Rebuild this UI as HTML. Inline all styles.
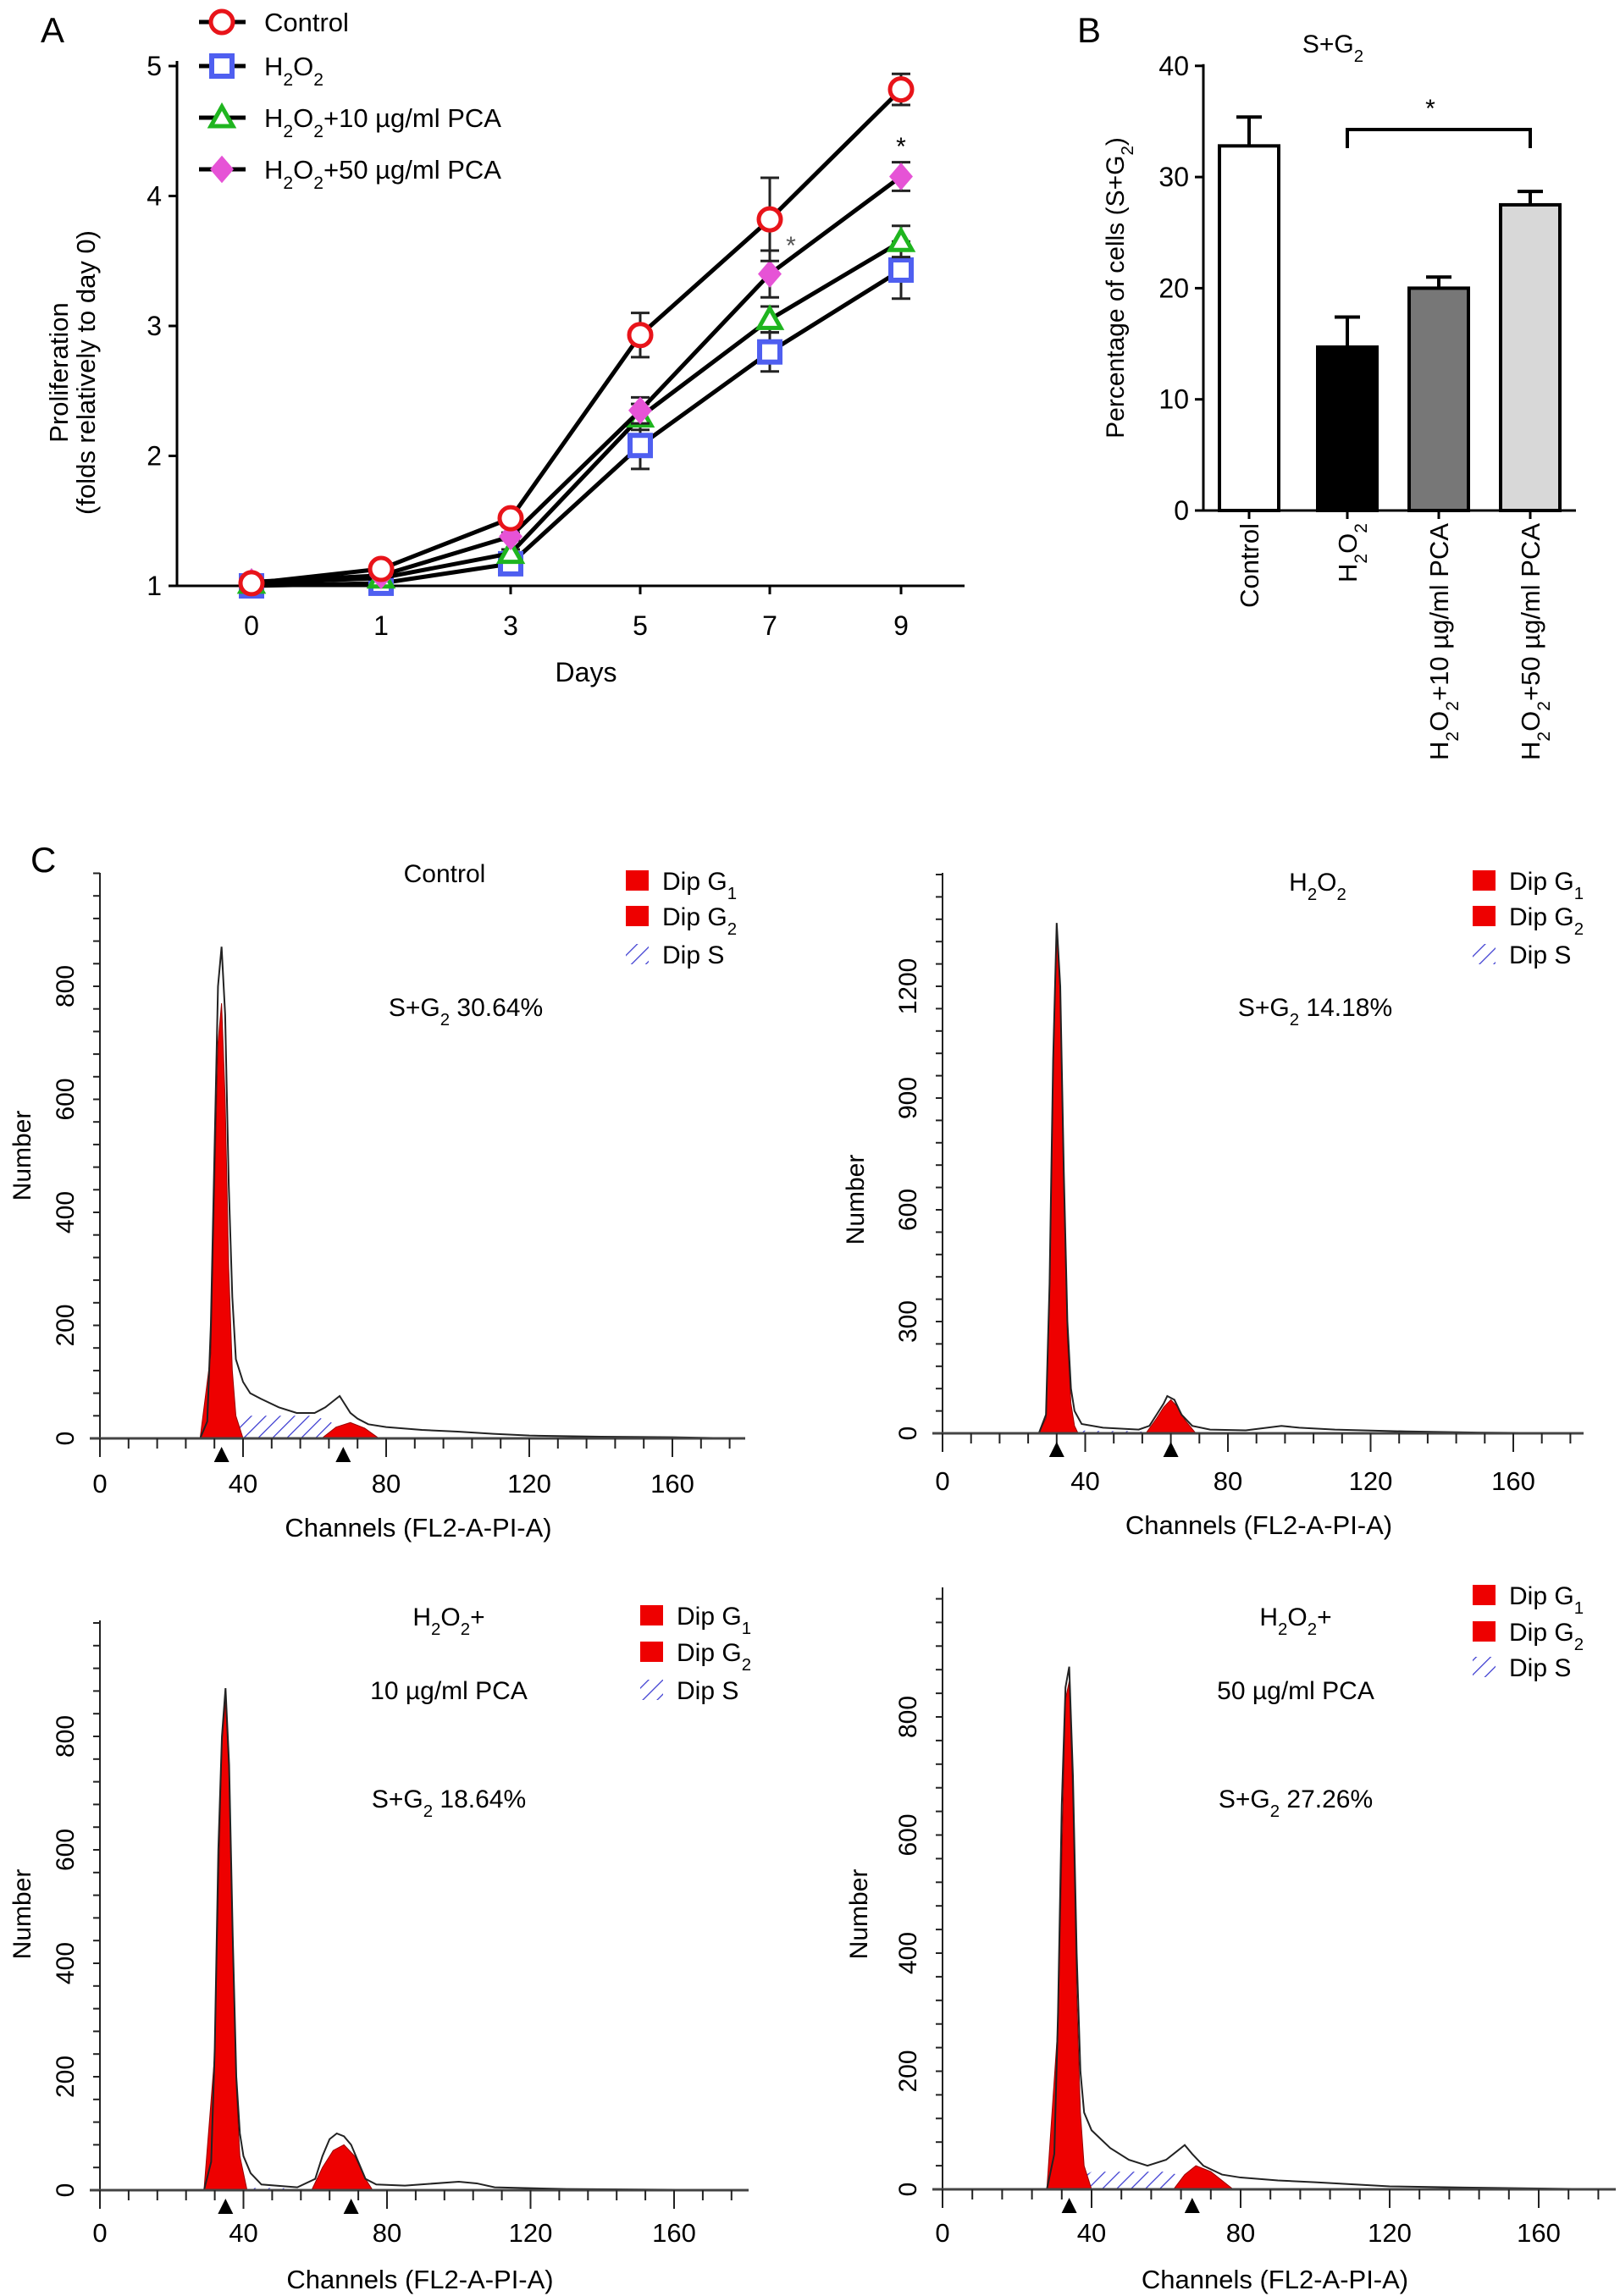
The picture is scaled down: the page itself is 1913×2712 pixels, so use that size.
<!DOCTYPE html>
<html><head><meta charset="utf-8"><style>
html,body{margin:0;padding:0;background:#fff;}
svg{display:block;font-family:"Liberation Sans Narrow","Liberation Sans",sans-serif;}
.ax{stroke:#000;stroke-width:3;fill:none;}
</style></head><body>
<svg id="fig" width="1913" height="2712" viewBox="0 0 1913 2712" xmlns="http://www.w3.org/2000/svg">
<defs>
<pattern id="hatch" patternUnits="userSpaceOnUse" width="12" height="12" patternTransform="rotate(45)">
<line x1="0" y1="0" x2="0" y2="12" stroke="#3a3ad0" stroke-width="2.5"/>
</pattern>
</defs>
<text x="48" y="50" font-size="42" font-family="Liberation Sans">A</text>
<text x="1272" y="50" font-size="42" font-family="Liberation Sans">B</text>
<text x="36" y="1030" font-size="42" font-family="Liberation Sans">C</text>
<g id="gA"></g>
<g id="gB"></g>
<g id="gC"></g>
</svg>
<script>
// ---------- Panel A data ----------
const daysA = [0, 1, 3, 5, 7, 9];
const dayLabelsA = ["0", "1", "3", "5", "7", "9"];
const yTicksA = [1, 2, 3, 4, 5];
const seriesNamesA = ["Control", "H2O2", "H2O2+10", "H2O2+50"];
const controlA = [1.02, 1.13, 1.52, 2.93, 3.82, 4.82];
const h2o2A = [1.0, 1.02, 1.17, 2.08, 2.80, 3.43];
const pca10A = [1.02, 1.06, 1.25, 2.30, 3.05, 3.65];
const pca50A = [1.03, 1.08, 1.38, 2.35, 3.40, 4.15];
const controlErrA = [0, 0, 0.03, 0.17, 0.32, 0.12];
const h2o2ErrA = [0, 0, 0.03, 0.18, 0.15, 0.22];
const pca10ErrA = [0, 0, 0.03, 0.10, 0.10, 0.12];
const pca50ErrA = [0, 0, 0.03, 0.10, 0.18, 0.11];
// ---------- Panel B data ----------
const catsB = ["Control", "H2O2", "H2O2+10 µg/ml PCA", "H2O2+50 µg/ml PCA"];
const valsB = [32.8, 14.7, 20.0, 27.5];
const errsB = [2.6, 2.7, 1.0, 1.2];
const yTicksB = [0, 10, 20, 30, 40];
// ---------- Panel C data (channel, count) ----------
const ctrlCh = [28,30,31,32,33,34,35,36,37,38,40,42,45,50,55,60,63,65,67,68,70,72,75,80,90,100,110,120,140,160,178];
const ctrlN  = [0,30,200,500,800,870,750,450,250,140,100,80,70,55,45,45,55,65,75,65,45,35,25,20,15,12,8,5,3,2,0];
const ctrlG1Ch=[28,31,33,34,35,36,37,38,40]; const ctrlG1N=[0,150,700,770,600,300,120,40,0];
const ctrlG2Ch=[62,66,70,74,78]; const ctrlG2N=[0,20,28,18,0];
const ctrlSCh=[36,40,60,66,68]; const ctrlSN=[20,40,40,25,0];
const h2Ch=[27,29,30,31,32,33,34,35,36,37,39,45,55,58,60,62,63,65,67,70,75,85,95,100,110,130,150,178];
const h2N =[0,50,400,1000,1370,1200,700,300,120,60,25,15,10,20,50,80,100,90,50,20,10,8,20,15,10,5,2,0];
const h2G1Ch=[27,29,30,31,32,33,34,35,36,37,38]; const h2G1N=[0,40,380,980,1350,1180,650,250,80,20,0];
const h2G2Ch=[57,60,62,64,66,68,71]; const h2G2N=[0,40,70,90,70,35,0];
const h2SCh=[38,45,55,58]; const h2SN=[8,6,6,0];
const p10Ch=[29,31,32,33,34,35,36,37,38,39,40,42,45,55,60,62,64,66,68,70,72,74,77,85,100,105,110,130,178];
const p10N =[0,50,250,600,800,885,750,450,200,100,60,30,10,5,20,60,90,100,95,80,50,20,10,8,15,12,5,2,0];
const p10G1Ch=[29,32,34,35,36,37,38,39,41]; const p10G1N=[0,240,790,860,730,430,180,60,0];
const p10G2Ch=[59,62,65,68,71,74,76]; const p10G2N=[0,40,70,80,60,20,0];
const p10SCh=[40,50,59]; const p10SN=[4,4,0];
const p50Ch=[28,30,31,32,33,34,35,36,37,38,40,45,50,55,60,63,65,67,70,75,80,90,100,120,140,178];
const p50N =[0,60,300,650,850,885,700,400,200,130,100,70,50,40,50,65,75,60,40,25,20,15,12,5,3,0];
const p50G1Ch=[28,31,33,34,35,36,37,38,40]; const p50G1N=[0,280,830,860,650,330,130,40,0];
const p50G2Ch=[62,65,68,72,76,78]; const p50G2N=[0,25,40,30,10,0];
const p50SCh=[37,40,60,66,68]; const p50SN=[20,30,30,20,0];

const NS="http://www.w3.org/2000/svg";
function mk(parent, tag, attrs, txt){const e=document.createElementNS(NS,tag);for(const k in attrs)e.setAttribute(k,attrs[k]);if(txt!==undefined)e.textContent=txt;parent.appendChild(e);return e;}
function sub(parent, x, y, parts, size, anchor, extra){
  const t=mk(parent,'text',Object.assign({x:x,y:y,'font-size':size,'text-anchor':anchor||'start'},extra||{}));
  parts.forEach(p=>{const s=document.createElementNS(NS,'tspan');if(p[1]){s.setAttribute('baseline-shift','sub');s.setAttribute('font-size',size*0.68);}s.textContent=p[0];t.appendChild(s);});
  return t;
}

// ---------- Panel A ----------
(function(){
  const g=document.getElementById('gA');
  const x0=209,x1=1139,yb=692;
  const xd={0:297,1:450,3:603,5:756,7:909,9:1064};
  const xs=d=>xd[d];
  const ys=v=>692-(v-1)*153.5;
  let e;
  e=mk(g,'line',{x1:x0,y1:ys(5)-6,x2:x0,y2:yb,class:'ax'});
   
  e=mk(g,'line',{x1:x0,y1:yb,x2:x1,y2:yb,class:'ax','stroke-width':5});
   
  yTicksA.forEach(v=>{
    e=mk(g,'line',{x1:x0-10,y1:ys(v),x2:x0,y2:ys(v),class:'ax'});
     
    e=mk(g,'text',{x:x0-18,y:ys(v)+11,'font-size':32,'text-anchor':'end'},String(v));
     
  });
  daysA.forEach((d,i)=>{
    e=mk(g,'line',{x1:xs(d),y1:yb,x2:xs(d),y2:yb+10,class:'ax'});
     
    e=mk(g,'text',{x:xs(d),y:750,'font-size':32,'text-anchor':'middle'},dayLabelsA[i]);
     
  });
  e=mk(g,'text',{x:692,y:805,'font-size':32,'text-anchor':'middle'},'Days');
   
  e=mk(g,'text',{x:0,y:0,'font-size':31,'text-anchor':'middle','font-family':'Liberation Sans',transform:'translate(80,440) rotate(-90)'},'Proliferation');
   
  e=mk(g,'text',{x:0,y:0,'font-size':31,'text-anchor':'middle','font-family':'Liberation Sans',transform:'translate(112,440) rotate(-90)'},'(folds relatively to day 0)');
   

  const sers=[[controlA,controlErrA,'#e8141a','circle'],[h2o2A,h2o2ErrA,'#4f5ff0','square'],[pca10A,pca10ErrA,'#1fb51f','triangle'],[pca50A,pca50ErrA,'#e653d6','diamond']];
  function marker(parent,x,y,col,shape){
    let m;
    if(shape==='circle') m=mk(parent,'circle',{cx:x,cy:y,r:13,fill:'#fff',stroke:col,'stroke-width':5});
    else if(shape==='square') m=mk(parent,'rect',{x:x-12,y:y-12,width:24,height:24,fill:'#fff',stroke:col,'stroke-width':6});
    else if(shape==='triangle') m=mk(parent,'polygon',{points:`${x},${y-13} ${x-13},${y+10} ${x+13},${y+10}`,fill:'#fff',stroke:col,'stroke-width':5});
    else m=mk(parent,'polygon',{points:`${x},${y-14} ${x+12},${y} ${x},${y+14} ${x-12},${y}`,fill:col,stroke:col,'stroke-width':3});
    return m;
  }
  [1,2,3,0].forEach(si=>{
    const [vals,errs,col,shape]=sers[si];
    const sg=mk(g,'g',{});
    
    
    const pts=daysA.map((d,i)=>xs(d)+','+ys(vals[i])).join(' ');
    e=mk(sg,'polyline',{points:pts,fill:'none',stroke:'#000','stroke-width':5});
     
    daysA.forEach((d,i)=>{
      if(errs[i]>0){
        const x=xs(d),ya=ys(vals[i]+errs[i]),yb2=ys(vals[i]-errs[i]);
        e=mk(sg,'path',{d:`M${x},${ya}V${yb2}M${x-11},${ya}H${x+11}M${x-11},${yb2}H${x+11}`,stroke:'#222','stroke-width':3,fill:'none'});
         
      }
      e=marker(sg,xs(d),ys(vals[i]),col,shape);
       
    });
  });
  e=mk(g,'text',{x:934,y:300,'font-size':30,'text-anchor':'middle',fill:'#555'},'*');
   
  e=mk(g,'text',{x:1064,y:183,'font-size':30,'text-anchor':'middle'},'*');
   
  const leg=[[26,[['Control',0]]],[78,[['H',0],['2',1],['O',0],['2',1]]],[139,[['H',0],['2',1],['O',0],['2',1],['+10 µg/ml PCA',0]]],[200,[['H',0],['2',1],['O',0],['2',1],['+50 µg/ml PCA',0]]]];
  leg.forEach((L,i)=>{
    const lg=mk(g,'g',{});
     
    e=mk(lg,'line',{x1:235,y1:L[0],x2:290,y2:L[0],stroke:'#000','stroke-width':5});
     
    e=marker(lg,262,L[0],sers[i][2],sers[i][3]);
     
    e=sub(lg,312,L[0]+11,L[1],31);
     
  });
})();

// ---------- Panel B ----------
(function(){
  const g=document.getElementById('gB');
  const x0=1421,x1=1861,y0=603;
  const ys=v=>603-v*13.13;
  const centers=[1475,1591,1699,1807];
  const fills=['#ffffff','#000000','#777777','#d8d8d8'];
  let e;
  e=mk(g,'line',{x1:x0,y1:ys(40)-2,x2:x0,y2:y0,class:'ax'});
   
  e=mk(g,'line',{x1:x0,y1:y0,x2:x1,y2:y0,class:'ax','stroke-width':4});
   
  yTicksB.forEach(v=>{
    e=mk(g,'line',{x1:x0-10,y1:ys(v),x2:x0,y2:ys(v),class:'ax'});
     
    e=mk(g,'text',{x:x0-17,y:ys(v)+11,'font-size':32,'text-anchor':'end'},String(v));
     
  });
  valsB.forEach((v,i)=>{
    const c=centers[i];
    e=mk(g,'line',{x1:c,y1:ys(v+errsB[i]),x2:c,y2:ys(v),stroke:'#000','stroke-width':4});
     
    e=mk(g,'line',{x1:c-15,y1:ys(v+errsB[i]),x2:c+15,y2:ys(v+errsB[i]),stroke:'#000','stroke-width':4});
     
    e=mk(g,'rect',{x:c-35,y:ys(v),width:70,height:y0-ys(v),fill:fills[i],stroke:'#000','stroke-width':4});
     
    e=mk(g,'line',{x1:c,y1:y0,x2:c,y2:y0+10,class:'ax'});
     
  });
  const labs=[[['Control',0]],[['H',0],['2',1],['O',0],['2',1]],[['H',0],['2',1],['O',0],['2',1],['+10 µg/ml PCA',0]],[['H',0],['2',1],['O',0],['2',1],['+50 µg/ml PCA',0]]];
  labs.forEach((L,i)=>{
    e=sub(g,0,0,L,31,'end',{'font-family':'Liberation Sans',transform:`translate(${centers[i]+11},618) rotate(-90)`});
     
  });
  e=sub(g,0,0,[['Percentage of cells (S+G',0],['2',1],[')',0]],30,'middle',{'font-family':'Liberation Sans',transform:'translate(1327,340) rotate(-90)'});
   
  e=sub(g,1574,62,[['S+G',0],['2',1]],30,'middle');
   
  e=mk(g,'path',{d:`M${centers[1]},175V153H${centers[3]}V175`,fill:'none',stroke:'#000','stroke-width':4});
   
  e=mk(g,'text',{x:1689,y:138,'font-size':30,'text-anchor':'middle'},'*');
   
})();

// ---------- Panel C ----------
(function(){
  const G=document.getElementById('gC');
  const panels=[
    {name:'control',ax:118,y0:1699,yTop:1031,per:133.5/200,ticks:[0,200,400,600,800],minor:40,xEnd:880,perCh:169/40,ch:ctrlCh,n:ctrlN,g1c:ctrlG1Ch,g1n:ctrlG1N,g2c:ctrlG2Ch,g2n:ctrlG2N,sc:ctrlSCh,sn:ctrlSN,m1:34,m2:68,
     title:[[['Control',0]]],titleX:525,titleY:[1042],legX:739,legY:[1040,1082,1127],sgX:550,sgY:1200,sg:'30.64%',numX:26,numY:1365,tickY:1763,chY:1815},
    {name:'h2o2',ax:1113,y0:1693,yTop:1031,per:132/300,ticks:[0,300,600,900,1200],minor:60,xEnd:1870,perCh:168.5/40,ch:h2Ch,n:h2N,g1c:h2G1Ch,g1n:h2G1N,g2c:h2G2Ch,g2n:h2G2N,sc:h2SCh,sn:h2SN,m1:32,m2:64,
     title:[[['H',0],['2',1],['O',0],['2',1]]],titleX:1556,titleY:[1052],legX:1739,legY:[1040,1082,1127],sgX:1553,sgY:1200,sg:'14.18%',numX:1010,numY:1417,tickY:1760,chY:1812},
    {name:'pca10',ax:118,y0:2587,yTop:1914,per:134/200,ticks:[0,200,400,600,800],minor:40,xEnd:884,perCh:169.5/40,ch:p10Ch,n:p10N,g1c:p10G1Ch,g1n:p10G1N,g2c:p10G2Ch,g2n:p10G2N,sc:p10SCh,sn:p10SN,m1:35,m2:70,
     title:[[['H',0],['2',1],['O',0],['2',1],['+',0]],[['10 µg/ml PCA',0]]],titleX:530,titleY:[1920,2007],legX:756,legY:[1908,1951,1996],sgX:530,sgY:2135,sg:'18.64%',numX:26,numY:2261,tickY:2648,chY:2703},
    {name:'pca50',ax:1113,y0:2586,yTop:1875,per:139.5/200,ticks:[0,200,400,600,800],minor:40,xEnd:1908,perCh:176/40,ch:p50Ch,n:p50N,g1c:p50G1Ch,g1n:p50G1N,g2c:p50G2Ch,g2n:p50G2N,sc:p50SCh,sn:p50SN,m1:34,m2:67,
     title:[[['H',0],['2',1],['O',0],['2',1],['+',0]],[['50 µg/ml PCA',0]]],titleX:1530,titleY:[1920,2007],legX:1739,legY:[1884,1927,1969],sgX:1530,sgY:2135,sg:'27.26%',numX:1014,numY:2261,tickY:2648,chY:2703}
  ];
  panels.forEach(P=>{
    const g=mk(G,'g',{});
     
    const xs=c=>P.ax+c*P.perCh;
    const ys=v=>P.y0-v*P.per;
    let e;
    const poly=(cs,ns)=>{let s=`M${xs(cs[0])},${P.y0}`;cs.forEach((c,i)=>{s+=`L${xs(c)},${ys(ns[i])}`;});s+=`L${xs(cs[cs.length-1])},${P.y0}Z`;return s;};
    e=mk(g,'path',{d:poly(P.sc,P.sn),fill:'url(#hatch)',stroke:'none'});
     
    e=mk(g,'path',{d:poly(P.g1c,P.g1n),fill:'#ee0000',stroke:'#900','stroke-width':1});
     
    e=mk(g,'path',{d:poly(P.g2c,P.g2n),fill:'#ee0000',stroke:'#900','stroke-width':1});
     
    e=mk(g,'polyline',{points:P.ch.map((c,i)=>xs(c)+','+ys(P.n[i])).join(' '),fill:'none',stroke:'#222','stroke-width':2});
     
    e=mk(g,'line',{x1:P.ax,y1:P.yTop,x2:P.ax,y2:P.y0+4,stroke:'#222','stroke-width':2});
     
    e=mk(g,'line',{x1:P.ax-12,y1:P.y0,x2:P.xEnd,y2:P.y0,stroke:'#444','stroke-width':3});
     
    for(let v=P.minor;ys(v)>P.yTop;v+=P.minor){
      e=mk(g,'line',{x1:P.ax-8,y1:ys(v),x2:P.ax,y2:ys(v),stroke:'#222','stroke-width':2});
       
    }
    P.ticks.forEach(v=>{
      e=mk(g,'text',{x:0,y:0,'font-size':30,'text-anchor':'middle','font-family':'Liberation Sans',transform:`translate(${P.ax-31},${ys(v)}) rotate(-90)`},String(v));
       
    });
    for(let c=0;xs(c)<=P.xEnd;c+=8){
      const maj=c%40===0;
      e=mk(g,'line',{x1:xs(c),y1:P.y0,x2:xs(c),y2:P.y0+(maj?22:12),stroke:'#222','stroke-width':2});
       
      if(maj && c<=160){
        e=mk(g,'text',{x:xs(c),y:P.tickY,'font-size':31,'text-anchor':'middle'},String(c));
         
      }
    }
    [P.m1,P.m2].forEach(m=>{
      e=mk(g,'polygon',{points:`${xs(m)},${P.y0+10} ${xs(m)-9},${P.y0+28} ${xs(m)+9},${P.y0+28}`,fill:'#000'});
       
    });
    e=mk(g,'text',{x:(P.ax+P.xEnd)/2-5,y:P.chY,'font-size':31,'text-anchor':'middle'},'Channels (FL2-A-PI-A)');
     
    e=mk(g,'text',{x:0,y:0,'font-size':30,'text-anchor':'middle','font-family':'Liberation Sans',transform:`translate(${P.numX+10},${P.numY}) rotate(-90)`},'Number');
     
    P.title.forEach((t,i)=>{
      e=sub(g,P.titleX,P.titleY[i],t,30,'middle');
       
    });
    e=sub(g,P.sgX,P.sgY,[['S+G',0],['2',1],[' '+P.sg,0]],30,'middle');
     
    const legL=[[['Dip G',0],['1',1]],[['Dip G',0],['2',1]],[['Dip S',0]]];
    legL.forEach((L,i)=>{
      const y=P.legY[i];
      if(i<2){ e=mk(g,'rect',{x:P.legX,y:y-12,width:27,height:24,fill:'#ee0000'}); }
      else { e=mk(g,'rect',{x:P.legX,y:y-12,width:27,height:24,fill:'url(#hatch)'}); }
       
      e=sub(g,P.legX+43,y+11,L,30,'start');
       
    });
  });
})();
</script>
</body></html>
